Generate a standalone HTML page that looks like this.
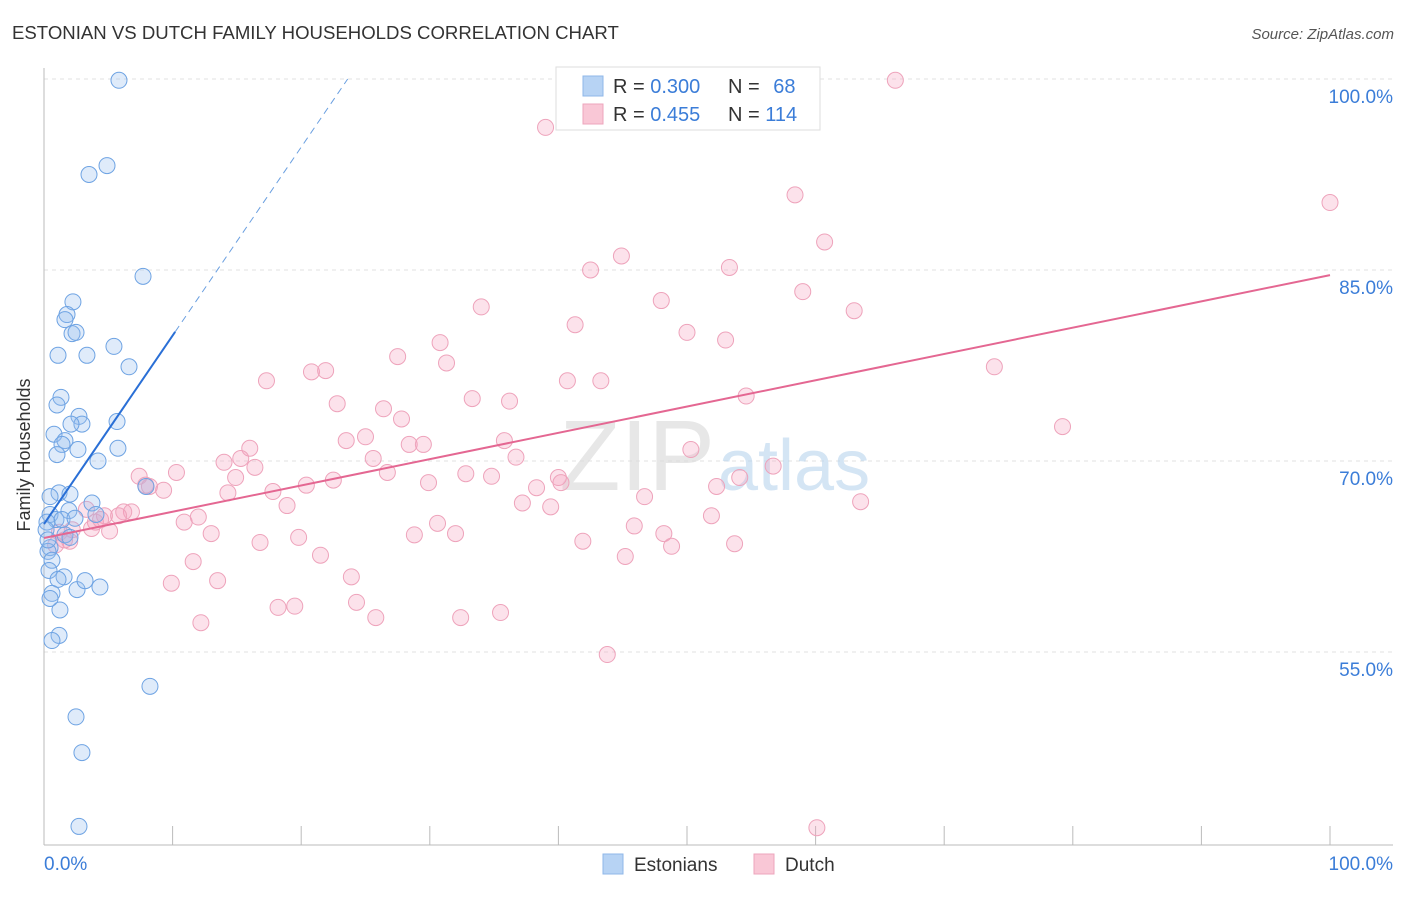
<!DOCTYPE html>
<html><head><meta charset="utf-8"><style>
body{margin:0;background:#fff;font-family:"Liberation Sans",sans-serif}
svg text{font-family:"Liberation Sans",sans-serif}
</style></head><body>
<svg width="1406" height="892" xmlns="http://www.w3.org/2000/svg">
<text x="12" y="39" font-size="18.6" fill="#333">ESTONIAN VS DUTCH FAMILY HOUSEHOLDS CORRELATION CHART</text>
<text x="1394" y="39" font-size="15" fill="#555" font-style="italic" text-anchor="end">Source: ZipAtlas.com</text>
<g id="grid"></g>
<text x="715" y="490" font-size="100" fill="#ddd" font-family="Liberation Serif" text-anchor="end" opacity="0.7">ZIP</text>
<text x="718" y="490" font-size="72" fill="#b8d4ee" text-anchor="start" opacity="0.6">atlas</text>
<g id="pts"></g>
<g id="lines"></g>
<text x="30" y="455" font-size="18" fill="#333" transform="rotate(-90 30 455)" text-anchor="middle">Family Households</text>
<g>
<rect x="556" y="67" width="264" height="63" fill="#fff" stroke="#ddd"/>
<rect x="583" y="76" width="20" height="20" fill="#b7d3f4" stroke="#8fb7e8"/>
<rect x="583" y="104" width="20" height="20" fill="#f9c7d6" stroke="#eda6bc"/>
<text x="613" y="93" font-size="20" fill="#333">R = <tspan fill="#3b7dd8">0.300</tspan></text>
<text x="728" y="93" font-size="20" fill="#333">N = <tspan fill="#3b7dd8" dx="8">68</tspan></text>
<text x="613" y="121" font-size="20" fill="#333">R = <tspan fill="#3b7dd8">0.455</tspan></text>
<text x="728" y="121" font-size="20" fill="#333">N = <tspan fill="#3b7dd8">114</tspan></text>
</g>
<g>
<rect x="603" y="854" width="20" height="20" fill="#b7d3f4" stroke="#8fb7e8"/>
<text x="634" y="871" font-size="19" fill="#333">Estonians</text>
<rect x="754" y="854" width="20" height="20" fill="#f9c7d6" stroke="#eda6bc"/>
<text x="785" y="871" font-size="19" fill="#333">Dutch</text>
</g>
</svg>
<script>
const blueX=[5.83,4.90,3.50,7.70,2.25,1.79,1.63,2.18,2.49,5.44,1.09,3.34,6.61,1.32,1.01,2.72,2.95,2.10,5.68,0.78,1.63,1.40,2.64,1.01,5.75,4.20,1.17,2.02,0.47,3.73,1.94,4.04,0.47,0.93,1.40,0.23,2.41,7.93,1.63,2.02,0.47,0.31,0.62,0.39,1.56,1.09,2.57,3.19,4.35,0.62,0.47,1.24,1.17,0.62,8.24,2.49,2.95,2.72,0.16,0.31];
const blueY=[99.9,93.2,92.5,84.5,82.5,81.5,81.1,80.0,80.1,79.0,78.3,78.3,77.4,75.0,74.4,73.5,72.9,72.9,73.1,72.1,71.6,71.3,70.9,70.5,71.0,70.0,67.5,67.4,67.2,66.7,66.1,65.8,65.8,65.4,65.4,65.2,65.5,68.0,64.2,64.0,63.2,62.9,62.2,61.4,60.9,60.7,59.9,60.6,60.1,59.6,59.2,58.3,56.3,55.9,52.3,49.9,47.1,41.3,64.6,63.8];
const pinkX=[66.2,39.0,100,58.4,60.7,44.9,42.5,53.3,34.0,48.0,59.0,63.0,41.3,50.0,53.0,30.8,31.3,27.5,20.8,21.9,17.3,40.7,43.3,73.9,54.6,33.3,36.2,22.8,26.4,27.8,79.2,23.5,25.0,35.8,28.4,29.5,16.0,14.0,15.3,16.4,25.6,36.7,10.3,7.4,14.9,26.7,32.8,34.8,56.7,50.3,40.0,29.9,40.2,7.9,38.3,9.3,17.8,14.3,20.4,22.5,52.3,54.1,46.7,37.2,39.4,63.5,18.9,3.3,4.7,6.8,6.2,5.8,4.0,10.9,12.0,30.6,51.9,3.7,5.1,13.0,2.2,1.2,1.6,0.9,2.0,19.8,28.8,32.0,45.9,41.9,48.2,48.8,53.7,16.8,21.5,45.2,11.6,9.9,13.5,23.9,24.3,18.2,19.5,25.8,32.4,35.5,12.2,43.8,60.1,8.2,4.4];
const pinkY=[99.9,96.2,90.3,90.9,87.2,86.1,85.0,85.2,82.1,82.6,83.3,81.8,80.7,80.1,79.5,79.3,77.7,78.2,77.0,77.1,76.3,76.3,76.3,77.4,75.1,74.9,74.7,74.5,74.1,73.3,72.7,71.6,71.9,71.6,71.3,71.3,71.0,69.9,70.2,69.5,70.2,70.3,69.1,68.8,68.7,69.1,69.0,68.8,69.6,70.9,68.7,68.3,68.3,68.1,67.9,67.7,67.6,67.5,68.1,68.5,68.0,68.7,67.2,66.7,66.4,66.8,66.5,66.2,65.7,66.0,66.0,65.7,65.2,65.2,65.6,65.1,65.7,64.7,64.5,64.3,64.6,64.4,63.8,63.4,63.7,64.0,64.2,64.3,64.9,63.7,64.3,63.3,63.5,63.6,62.6,62.5,62.1,60.4,60.6,60.9,58.9,58.5,58.6,57.7,57.7,58.1,57.3,54.8,41.2,68.0,65.4];
const yTicks=[100,85,70,55];
const yTickLabels=["100.0%","85.0%","70.0%","55.0%"];
const blueTrend=[65.05,1.48];
const pinkTrend=[63.95,0.2065];
const X=v=>44+v*12.86, Y=v=>79+(100-v)*12.733;
const NS="http://www.w3.org/2000/svg";
function mk(t,a,p){const e=document.createElementNS(NS,t);for(const k in a)e.setAttribute(k,a[k]);p.appendChild(e);return e;}
const g=document.getElementById('grid');
yTicks.forEach((t,i)=>{
 const l=mk('line',{x1:44,x2:1393,y1:Y(t),y2:Y(t),stroke:'#e2e2e2','stroke-dasharray':'4,4'},g);
 
 
 const tx=mk('text',{x:1393,y:Y(t)+24,'font-size':19,fill:'#3b7dd8','text-anchor':'end'},g);
 tx.textContent=yTickLabels[i];
 
 
});
const ax=mk('line',{x1:44,x2:44,y1:68,y2:845,stroke:'#bbb'},g);


const bx=mk('line',{x1:44,x2:1393,y1:845,y2:845,stroke:'#bbb'},g);


for(let i=0;i<=10;i++){
 const t=mk('line',{x1:X(i*10),x2:X(i*10),y1:826,y2:845,stroke:'#bbb'},g);
 
 
}
const xl=mk('text',{x:44,y:870,'font-size':19,fill:'#3b7dd8'},g);xl.textContent='0.0%';


const xr=mk('text',{x:1393,y:870,'font-size':19,fill:'#3b7dd8','text-anchor':'end'},g);xr.textContent='100.0%';


const p=document.getElementById('pts');
pinkX.forEach((x,i)=>{const c=mk('circle',{cx:X(x),cy:Y(pinkY[i]),r:8,fill:'rgba(244,160,188,0.3)',stroke:'#eea3bb','stroke-width':1},p);
 
 });
blueX.forEach((x,i)=>{const c=mk('circle',{cx:X(x),cy:Y(blueY[i]),r:8,fill:'rgba(150,190,240,0.3)',stroke:'#6ea3e3','stroke-width':1},p);
 
 });
const L=document.getElementById('lines');
const f=(tr,x)=>tr[0]+tr[1]*x;
const b1=mk('line',{x1:X(0),y1:Y(f(blueTrend,0)),x2:X(10.2),y2:Y(f(blueTrend,10.2)),stroke:'#2a6fd6','stroke-width':2},L);


const xe=(100-blueTrend[0])/blueTrend[1];
const b2=mk('line',{x1:X(10.2),y1:Y(f(blueTrend,10.2)),x2:X(xe),y2:Y(100),stroke:'#6a9fe0','stroke-width':1,'stroke-dasharray':'7,5'},L);


const p1=mk('line',{x1:X(0),y1:Y(f(pinkTrend,0)),x2:X(100),y2:Y(f(pinkTrend,100)),stroke:'#e46792','stroke-width':2},L);


</script>
</body></html>
